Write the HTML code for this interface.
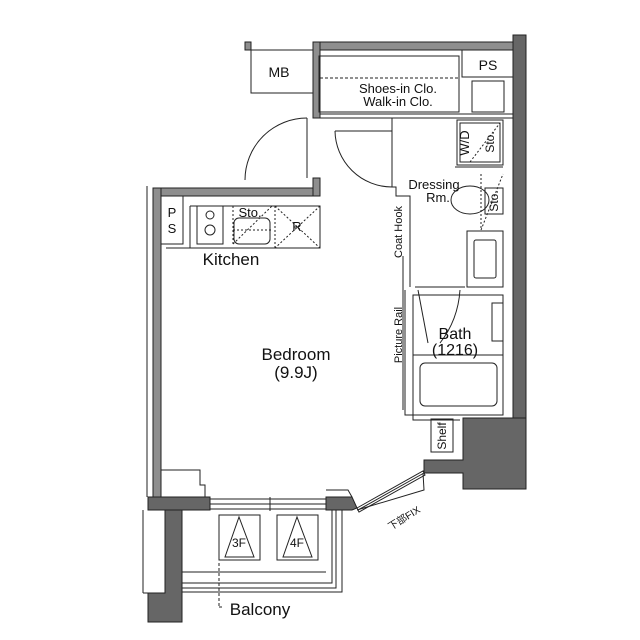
<!DOCTYPE html>
<html><head><meta charset="utf-8"><style>
html,body{margin:0;padding:0;background:#fff;}
svg{display:block;}
text{font-family:"Liberation Sans","Noto Sans CJK JP",sans-serif;fill:#111;}
</style></head><body>
<svg width="640" height="640" viewBox="0 0 640 640" xmlns="http://www.w3.org/2000/svg">
<g fill="none" stroke="#222" stroke-width="1">
<line x1="147" y1="186" x2="147" y2="497"/>
<line x1="143" y1="510" x2="143" y2="593"/>
<line x1="143" y1="593" x2="165" y2="593"/>
</g>
<g fill="#8e8e8e" stroke="#222" stroke-width="1">
<rect x="313" y="42" width="200" height="8"/>
<rect x="313" y="42" width="7" height="76"/>
<rect x="153" y="188" width="167" height="8"/>
<rect x="153" y="188" width="8" height="309"/>
<rect x="313" y="178" width="7" height="18"/>
<rect x="245" y="42" width="6" height="8"/>
</g>
<g fill="#666" stroke="#222" stroke-width="1">
<rect x="513" y="35" width="13" height="390"/>
<polygon points="463,418 526,418 526,489 463,489 463,473 424,473 424,460 463,460"/>
<rect x="148" y="497" width="62" height="13"/>
<polygon points="326,497 352,497 357,508 352,510 326,510"/>
<polygon points="148,510 182,510 182,622 148,622 148,593 165,593 165,510 148,510"/>
</g>
<g fill="none" stroke="#222" stroke-width="1">
<rect x="251" y="50" width="62" height="43"/>
<rect x="319" y="56" width="140" height="56"/>
<line x1="320" y1="78" x2="458" y2="78" stroke-dasharray="3,2"/>
<rect x="462" y="50" width="51" height="27"/>
<rect x="472" y="81" width="32" height="31"/>
<line x1="320" y1="118" x2="513" y2="118"/>
<line x1="320" y1="114" x2="513" y2="114"/>
<line x1="307" y1="118" x2="307" y2="178"/>
<path d="M307,118 A62,62 0 0 0 245,180"/>
<line x1="335" y1="131" x2="392" y2="131"/>
<path d="M335,131 A57,57 0 0 0 392,187"/>
<polyline points="392,118 392,187 396,187 396,196 410,196 410,287"/>
<polyline points="405,290 405,415 413,415 413,420 460,420"/>
<line x1="403" y1="256" x2="403" y2="410"/>
<rect x="457" y="120" width="46" height="45"/>
<rect x="460" y="123" width="40" height="39"/>
<line x1="470" y1="162" x2="500" y2="123" stroke-dasharray="2,2"/>
<line x1="455" y1="167" x2="503" y2="167"/>
<ellipse cx="470" cy="200" rx="19" ry="14"/>
<rect x="485" y="188" width="18" height="26"/>
<line x1="481" y1="174" x2="481" y2="230" stroke-dasharray="2,2"/>
<line x1="481" y1="230" x2="503" y2="174" stroke-dasharray="2,2"/>
<rect x="467" y="231" width="36" height="56"/>
<rect x="474" y="240" width="22" height="38" rx="2"/>
<rect x="413" y="295" width="90" height="120"/>
<line x1="413" y1="355" x2="503" y2="355"/>
<rect x="420" y="363" width="77" height="43" rx="5"/>
<rect x="492" y="303" width="11" height="38"/>
<line x1="415" y1="287" x2="465" y2="287"/>
<path d="M460,290 Q458,320 440,343"/>
<line x1="418" y1="290" x2="428" y2="343"/>
<rect x="431" y="419" width="22" height="33"/>
<rect x="161" y="196" width="22" height="48"/>
<polyline points="190,206 320,206 320,248 190,248 190,206"/>
<rect x="197" y="206" width="26" height="38"/>
<circle cx="210" cy="215" r="4"/><circle cx="210" cy="230" r="5"/>
<rect x="234" y="218" width="36" height="26" rx="5"/>
<line x1="233" y1="230" x2="272" y2="230" stroke-dasharray="2,2"/>
<line x1="233" y1="206" x2="233" y2="244" stroke-dasharray="2,2"/>
<line x1="233" y1="244" x2="272" y2="206" stroke-dasharray="2,2"/>
<rect x="275" y="206" width="45" height="42" stroke-dasharray="2,2"/>
<line x1="275" y1="206" x2="320" y2="248" stroke-dasharray="2,2"/>
<line x1="320" y1="206" x2="275" y2="248" stroke-dasharray="2,2"/>
<line x1="166" y1="248" x2="190" y2="248"/>
<polyline points="161,470 200,470 200,485 205,485 205,497"/>
<polyline points="326,490 348,490 352,497"/>
<rect x="210" y="499" width="116" height="10"/>
<line x1="210" y1="504" x2="326" y2="504"/>
<line x1="270" y1="497" x2="270" y2="511"/>
<polygon points="357,508 423,471 425,475 359,512"/>
<line x1="358" y1="510" x2="424" y2="473"/>
<path d="M357,510 L424,490 L423,473"/>
<rect x="219" y="515" width="41" height="45"/>
<polygon points="225,557 239,517 254,557"/>
<rect x="277" y="515" width="41" height="45"/>
<polygon points="283,557 297,517 312,557"/>
<polyline points="182,572 326,572"/>
<polyline points="182,583 332,583 332,510"/>
<polyline points="182,588 336,588 336,510"/>
<polyline points="182,592 342,592 342,510"/>
<line x1="219" y1="563" x2="219" y2="607" stroke-dasharray="3,2"/>
<line x1="219" y1="607" x2="222" y2="607"/>
</g>
<g font-size="13" text-anchor="middle">
<text x="279" y="77" font-size="14">MB</text>
<text x="488" y="70" font-size="14">PS</text>
<text x="398" y="93" font-size="13">Shoes-in Clo.</text>
<text x="398" y="106" font-size="13">Walk-in Clo.</text>
<text x="434" y="189" font-size="13">Dressing</text>
<text x="438" y="202" font-size="13">Rm.</text>
<text x="172" y="217" font-size="13">P</text>
<text x="172" y="233" font-size="13">S</text>
<text x="250" y="217" font-size="13">Sto.</text>
<text x="297" y="231" font-size="13">R</text>
<text x="231" y="265" font-size="17">Kitchen</text>
<text x="455" y="339" font-size="16">Bath</text>
<text x="455" y="355" font-size="16">(1216)</text>
<text x="296" y="360" font-size="17">Bedroom</text>
<text x="296" y="378" font-size="17">(9.9J)</text>
<text x="239" y="547" font-size="12">3F</text>
<text x="297" y="547" font-size="12">4F</text>
<text x="260" y="615" font-size="17">Balcony</text>
<text transform="translate(469,143) rotate(-90)" font-size="13">W/D</text>
<text transform="translate(494,142) rotate(-90)" font-size="12">Sto.</text>
<text transform="translate(498,201) rotate(-90)" font-size="12">Sto.</text>
<text transform="translate(402,232) rotate(-90)" font-size="11">Coat Hook</text>
<text transform="translate(402,335) rotate(-90)" font-size="11">Picture Rail</text>
<text transform="translate(446,436) rotate(-90)" font-size="12">Shelf</text>
<text transform="translate(406,521) rotate(-32)" font-size="10">下部FIX</text>
</g>
</svg>
</body></html>
